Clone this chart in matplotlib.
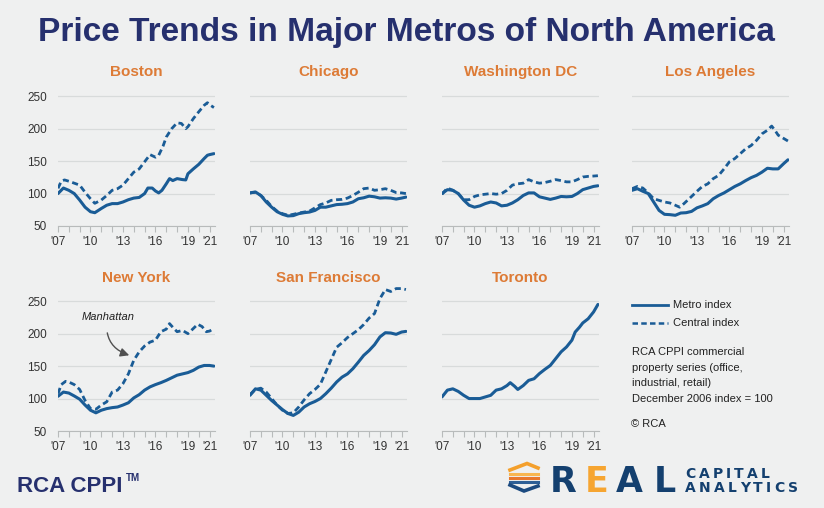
import matplotlib
matplotlib.use("Agg")
import matplotlib.pyplot as plt
from matplotlib import font_manager
from matplotlib.lines import Line2D

# ---------------- data ----------------
half_years = [2007.0, 2007.5, 2008.0, 2008.5, 2009.0, 2009.5, 2010.0, 2010.5, 2011.0, 2011.5,
              2012.0, 2012.5, 2013.0, 2013.5, 2014.0, 2014.5, 2015.0, 2015.5, 2016.0, 2016.5,
              2017.0, 2017.5, 2018.0, 2018.5, 2019.0, 2019.5, 2020.0, 2020.5, 2021.0, 2021.4]

boston_metro_x = [2007.0, 2007.5, 2008.0, 2008.5, 2009.0, 2009.5, 2010.0, 2010.4, 2011.0, 2011.5,
                  2012.0, 2012.5, 2013.0, 2013.5, 2014.0, 2014.5, 2015.0, 2015.3, 2015.7, 2016.0,
                  2016.3, 2016.6, 2017.0, 2017.3, 2017.6, 2018.0, 2018.5, 2018.8, 2019.0, 2019.5,
                  2020.0, 2020.5, 2020.8, 2021.0, 2021.4]
boston_metro = [100, 108.5, 105, 100, 90, 79, 72, 70.5, 77, 82,
                84.5, 84.5, 87, 90.5, 93, 94, 100, 108.5, 108.5, 104,
                101, 105, 115, 123, 120, 123, 121.5, 121, 130.5, 138,
                145, 154, 159, 160, 161.5]
boston_central_x = [2007.0, 2007.3, 2007.6, 2008.0, 2008.5, 2009.0, 2009.5, 2010.0, 2010.4, 2011.0,
                    2011.5, 2012.0, 2012.5, 2013.0, 2013.5, 2014.0, 2014.5, 2015.0, 2015.5, 2016.0,
                    2016.3, 2016.7, 2017.0, 2017.5, 2018.0, 2018.4, 2018.8, 2019.0, 2019.5, 2020.0,
                    2020.5, 2020.8, 2021.0, 2021.4]
boston_central = [108, 119, 121, 119, 116, 113, 102, 92, 85, 90,
                  97, 105, 107.5, 113, 123, 133, 138, 149, 160, 156,
                  159, 173, 187, 200, 209, 208, 200, 203, 215.5, 226,
                  236, 240, 237, 232.5]

chicago_metro = [101, 102.5, 97, 87, 79, 72, 68, 65.5, 66, 69,
                 70.5, 71.5, 74, 79, 79, 81, 83, 83.5, 84.5, 87,
                 92, 93.5, 96, 95, 93, 93.5, 93, 91.5, 93, 94.5]
chicago_central = [101, 102, 97, 89.5, 80, 73, 69, 66.5, 68, 70,
                   71.5, 73, 78, 83, 85.5, 89.5, 90.5, 91, 93, 97,
                   102, 107.5, 108.5, 105, 106, 107.5, 105, 101.5, 101, 100]

washington_metro = [100, 106, 105, 100, 90, 82, 79, 81, 84.5, 87,
                    85.5, 81, 82, 85.5, 90.5, 97, 101, 101, 95, 93,
                    91, 93, 95.5, 95, 95.5, 100, 106, 108.5, 111, 112]
washington_central = [99, 108.5, 105, 100, 90.5, 90.5, 95.5, 98, 99, 100,
                      99, 100, 105, 113, 115, 116, 121.5, 118, 116, 117,
                      119, 121.5, 120, 118, 118, 121.5, 125.5, 126.5, 127, 127.5]

la_metro = [105, 107.5, 103.5, 100, 87, 74, 68, 67.5, 66.5, 70,
            70.5, 72.5, 78, 81, 84.5, 92, 97, 101, 106, 111,
            115, 120, 124.5, 128, 133, 139, 138, 138, 146, 152]
la_central_x = [2007.0, 2007.5, 2008.0, 2008.5, 2009.0, 2009.5, 2010.0, 2010.5, 2011.0, 2011.4,
                2011.8, 2012.5, 2013.0, 2013.5, 2014.0, 2014.5, 2015.0, 2015.5, 2016.0, 2016.5,
                2017.0, 2017.5, 2018.0, 2018.5, 2019.0, 2019.5, 2019.9, 2020.2, 2020.5, 2021.0,
                2021.4]
la_central = [107.5, 111, 108.5, 101, 92, 89.5, 87, 85.5, 82, 79,
              84.5, 95.5, 103.5, 111, 115, 123, 128, 138, 149, 154,
              161.5, 169, 174, 182, 192, 197.5, 204, 197.5, 190, 185,
              181]

ny_metro = [103.5, 110, 108.5, 104, 99, 90, 82, 78, 82, 84.5,
            86, 87, 90, 93.5, 101, 106, 113, 118, 121.5, 124.5,
            128, 132, 136, 138, 140, 143.5, 148.5, 151, 151, 150]
ny_central_x = [2007.0, 2007.3, 2007.7, 2008.0, 2008.5, 2009.0, 2009.5, 2010.0, 2010.5, 2011.0,
                2011.5, 2012.0, 2012.5, 2013.0, 2013.5, 2014.0, 2014.5, 2015.0, 2015.5, 2016.0,
                2016.5, 2017.0, 2017.3, 2017.7, 2018.0, 2018.5, 2019.0, 2019.5, 2019.9, 2020.3,
                2020.7, 2021.0, 2021.4]
ny_central = [107.5, 121.5, 126.5, 125.5, 121.5, 114, 97, 84.5, 83.5, 90,
              95, 110, 113, 123, 138, 159, 172, 181, 187, 190,
              203, 207, 215.5, 208, 203, 205, 200, 208, 214.5, 211,
              203, 204, 208]

sf_metro = [105, 115, 113, 105, 97, 90, 83, 77, 74, 79,
            87, 92, 95.5, 100, 107.5, 116, 125.5, 133, 138, 146,
            156, 166.5, 174, 183, 195, 201.5, 201, 199, 202.5, 203.5]
sf_central = [106, 114, 116, 110, 100, 90, 82, 77, 78, 87,
              98, 107.5, 114, 122, 141, 160, 179, 186, 194, 200,
              206, 214, 224, 231, 254, 268, 265, 269.5, 269.5, 268]

toronto_metro_x = [2007.0, 2007.5, 2008.0, 2008.5, 2009.0, 2009.5, 2010.0, 2010.5, 2011.0, 2011.5,
                   2012.0, 2012.5, 2013.0, 2013.3, 2013.7, 2014.0, 2014.5, 2015.0, 2015.5, 2016.0,
                   2016.5, 2017.0, 2017.5, 2018.0, 2018.5, 2019.0, 2019.3, 2019.7, 2020.0, 2020.5,
                   2021.0, 2021.4]
toronto_metro = [102.5, 113, 115, 111, 105, 100, 100, 100, 102.5, 105,
                 113, 115, 120, 124.5, 119, 114, 120, 128, 130.5, 138.5,
                 145, 151, 161.5, 172, 179.5, 190, 202.5, 210, 216.5, 223,
                 233.5, 245]

x_tick_years = [2007, 2010, 2013, 2016, 2019, 2021]
x_tick_labels = ["'07", "'10", "'13", "'16", "'19", "'21"]
y_ticks = [50, 100, 150, 200, 250]

city_names = ["Boston", "Chicago", "Washington DC", "Los Angeles",
              "New York", "San Francisco", "Toronto"]

# ---------------- style ----------------
W, H = 824, 508
BG = "#eff0f0"
LINE = "#1a5c96"
ORANGE = "#dd7b36"
NAVY = "#26306e"
GRID = "#d8dbdb"
SPINE = "#b8bbbb"
TXT = "#333333"

names = {f.name for f in font_manager.fontManager.ttflist}
SANS = "Liberation Sans" if "Liberation Sans" in names else "DejaVu Sans"
plt.rcParams["font.family"] = [SANS, "DejaVu Sans"]

fig = plt.figure(figsize=(W / 100, H / 100), dpi=100, facecolor=BG)


def fx(px):
    return px / W


def fy(py):
    return 1 - py / H


AX_W = 157
AX_H = 146
lefts = [58, 250, 442, 632]
bottoms = [226, 431]


def make_ax(col, row, title, show_y):
    l = lefts[col]
    b = bottoms[row]
    ax = fig.add_axes([fx(l), fy(b), AX_W / W, AX_H / H])
    ax.set_facecolor(BG)
    ax.set_xlim(2007, 2021.5)
    ax.set_ylim(50, 275)
    ax.set_yticks(y_ticks)
    ax.grid(axis="y", color=GRID, lw=0.9)
    ax.set_axisbelow(True)
    for s in ["top", "right", "left"]:
        ax.spines[s].set_visible(False)
    ax.spines["bottom"].set_color(SPINE)
    ax.spines["bottom"].set_linewidth(0.8)
    ax.tick_params(axis="y", length=0, pad=8, labelsize=8.5, labelcolor=TXT,
                   labelleft=show_y)
    ax.set_xticks(x_tick_years, x_tick_labels)
    ax.set_xticks(list(range(2007, 2022)), minor=True)
    ax.tick_params(axis="x", which="both", length=4, color=SPINE, width=0.8,
                   labelsize=8.5, labelcolor=TXT, pad=3)
    fig.text(fx(l + AX_W / 2), fy(72 if row == 0 else 278), title, ha="center",
             va="center", color=ORANGE, fontsize=11, fontweight="bold",
             family=[SANS, "DejaVu Sans"])
    return ax


DASH = (0, (2.2, 1.3))


def draw(ax, xm, ym, xc=None, yc=None):
    if xc is not None:
        ax.plot(xc, yc, color=LINE, lw=2.0, linestyle=DASH)
    ax.plot(xm, ym, color=LINE, lw=2.2, solid_capstyle="round", solid_joinstyle="round")


ax = make_ax(0, 0, city_names[0], True)
draw(ax, boston_metro_x, boston_metro, boston_central_x, boston_central)
ax = make_ax(1, 0, city_names[1], False)
draw(ax, half_years, chicago_metro, half_years, chicago_central)
ax = make_ax(2, 0, city_names[2], False)
draw(ax, half_years, washington_metro, half_years, washington_central)
ax = make_ax(3, 0, city_names[3], False)
draw(ax, half_years, la_metro, la_central_x, la_central)
ax_ny = make_ax(0, 1, city_names[4], True)
draw(ax_ny, half_years, ny_metro, ny_central_x, ny_central)
ax = make_ax(1, 1, city_names[5], False)
draw(ax, half_years, sf_metro, half_years, sf_central)
ax = make_ax(2, 1, city_names[6], False)
draw(ax, toronto_metro_x, toronto_metro)

# Manhattan annotation
ax_ny.annotate("Manhattan", xy=(2013.7, 166), xytext=(2011.6, 226),
               ha="center", va="center", fontsize=8, style="italic", color="#222222",
               arrowprops=dict(arrowstyle="-|>", color="#505050", lw=1.0,
                               shrinkA=6, shrinkB=1, mutation_scale=13,
                               connectionstyle="arc3,rad=0.45"))

# Legend / notes
fig.add_artist(Line2D([fx(632), fx(668)], [fy(305), fy(305)], transform=fig.transFigure,
                      color=LINE, lw=2.0))
fig.add_artist(Line2D([fx(632), fx(668)], [fy(323), fy(323)], transform=fig.transFigure,
                      color=LINE, lw=1.8, linestyle=(0, (2.2, 1.3))))
fig.text(fx(673), fy(305), "Metro index", va="center", ha="left", fontsize=8, color="#222222")
fig.text(fx(673), fy(323), "Central index", va="center", ha="left", fontsize=8, color="#222222")
notes = ["RCA CPPI commercial", "property series (office,", "industrial, retail)",
         "December 2006 index = 100"]
for i, line in enumerate(notes):
    fig.text(fx(632), fy(352 + i * 15.7), line, va="center", ha="left", fontsize=8,
             color="#222222")
fig.text(fx(631), fy(424), "\u00a9 RCA", va="center", ha="left", fontsize=8, color="#222222")

# Title: Arial-like bold, fitted to the reference width
r = fig.canvas.get_renderer()
title = fig.text(fx(406), fy(41), "Price Trends in Major Metros of North America",
                 ha="center", va="baseline", fontsize=22, fontweight="bold", color=NAVY,
                 family=[SANS, "DejaVu Sans"])
tw = title.get_window_extent(r).width
title.set_fontsize(22 * 736 / tw)

# Bottom-left brand
fig.text(fx(17), fy(492), "RCA CPPI", ha="left", va="baseline", fontsize=16,
         fontweight="bold", color=NAVY)
fig.text(fx(126), fy(481), "TM", ha="left", va="baseline", fontsize=7,
         fontweight="bold", color=NAVY)

# Real Capital Analytics logo
LOGO_NAVY = "#14406f"
LOGO_ORANGE = "#f6a531"
for ch, xl, col in [("R", 550, LOGO_NAVY), ("E", 585, LOGO_ORANGE),
                    ("A", 616, LOGO_NAVY), ("L", 654, LOGO_NAVY)]:
    fig.text(fx(xl), fy(492), ch, ha="left", va="baseline", fontsize=25,
             fontweight="bold", color=col, family="DejaVu Sans")


def track_text(s, x0, yb, size, spacing):
    x = x0
    for ch in s:
        t = fig.text(fx(x), fy(yb), ch, ha="left", va="baseline", fontsize=size,
                     color=LOGO_NAVY, family="DejaVu Sans", fontweight="bold")
        x += t.get_window_extent(r).width + spacing


track_text("CAPITAL", 685, 478, 10, 3.2)
track_text("ANALYTICS", 685, 492, 10, 3.2)

# icon
icon_lines = [
    ([510, 527, 538], [470, 463.5, 468], "#f4a02c", 2.6),
    ([510, 538], [474, 474], "#f8b650", 2.2),
    ([510, 538], [477.5, 477.5], "#e8772c", 2.2),
    ([510, 538], [481.5, 481.5], "#2d5f96", 2.2),
    ([510, 524, 538], [485, 491, 486], "#1b4a80", 2.6),
]
for xs, ys, c, lw in icon_lines:
    fig.add_artist(Line2D([fx(v) for v in xs], [fy(v) for v in ys],
                          transform=fig.transFigure, color=c, lw=lw,
                          solid_joinstyle="miter"))

fig.savefig("out.png", dpi=100, facecolor=BG)
